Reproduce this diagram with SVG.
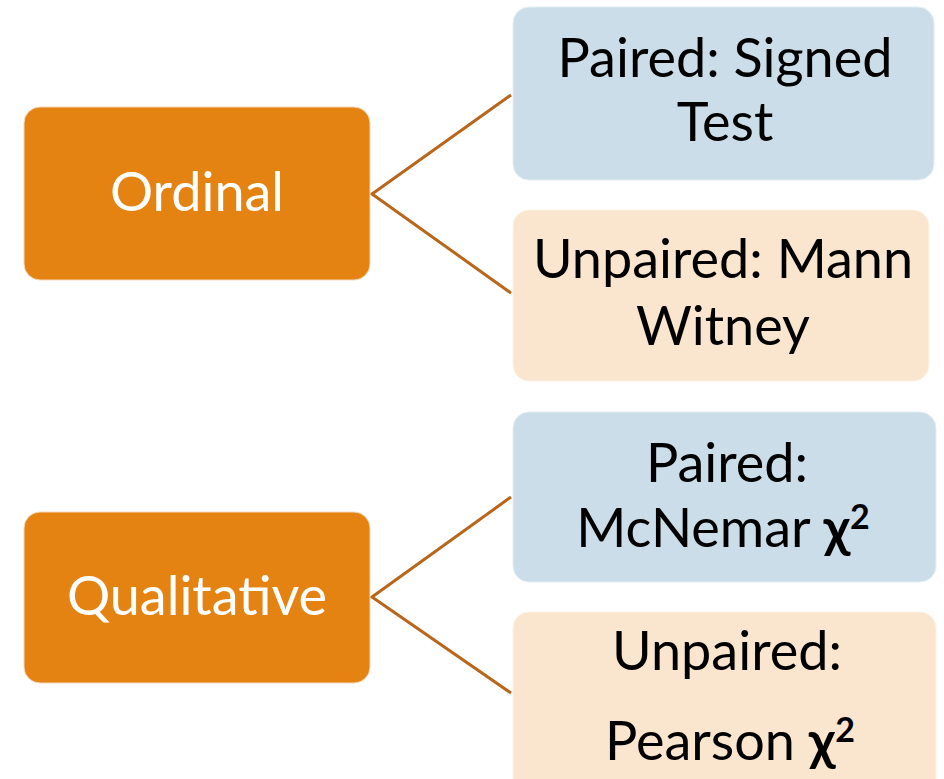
<svg xmlns="http://www.w3.org/2000/svg" width="944" height="779" viewBox="0 0 944 779">
<style>
.parent{fill:#E48312;stroke:#F3D9BC;stroke-width:1}
.blue{fill:#CBDDE9;stroke:#E4EEF5;stroke-width:1}
.peach{fill:#FAE5CE;stroke:#FDF3E8;stroke-width:1}
.pt{font-family:Lato,"Open Sans",sans-serif;font-size:54px;fill:#FFFFFF;text-anchor:middle}
.ct{font-family:Lato,"Open Sans",sans-serif;font-size:54px;fill:#000000;text-anchor:middle}
.b{font-weight:bold}
.sup{font-weight:bold;font-size:34px}
.conn{stroke:#B9651A;stroke-width:3;fill:none}
</style>
<rect width="944" height="779" fill="#FFFFFF"/>
<g id="connectors">
<polyline class="conn" points="511,95 372,194 511,293"/>
<polyline class="conn" points="511,497 372,597 511,693"/>
</g>
<g id="ordinal">
<rect class="parent" x="24" y="107" width="346" height="173" rx="16"/>
<text class="pt" x="197" y="211">Ordinal</text>
</g>
<g id="qualitative">
<rect class="parent" x="24" y="512" width="346" height="171" rx="16"/>
<text class="pt" x="197" y="615">Qualitative</text>
</g>
<g id="paired-signed">
<rect class="blue" x="513" y="7" width="421" height="173" rx="16"/>
<text class="ct" x="725" y="77">Paired: Signed</text>
<text class="ct" x="725" y="141">Test</text>
</g>
<g id="unpaired-mann">
<rect class="peach" x="513" y="210" width="416" height="171" rx="16"/>
<text class="ct" x="723" y="278">Unpaired: Mann</text>
<text class="ct" x="723" y="345">Witney</text>
</g>
<g id="paired-mcnemar">
<rect class="blue" x="513" y="412" width="423" height="170" rx="16"/>
<text class="ct" x="727" y="482">Paired:</text>
<text class="ct" x="723" y="547">McNemar <tspan class="b">χ</tspan><tspan class="sup" dy="-18">2</tspan></text>
</g>
<g id="unpaired-pearson">
<rect class="peach" x="513" y="612" width="423" height="185" rx="16"/>
<text class="ct" x="727" y="670">Unpaired:</text>
<text class="ct" x="730" y="760">Pearson <tspan class="b">χ</tspan><tspan class="sup" dy="-18">2</tspan></text>
</g>
</svg>
